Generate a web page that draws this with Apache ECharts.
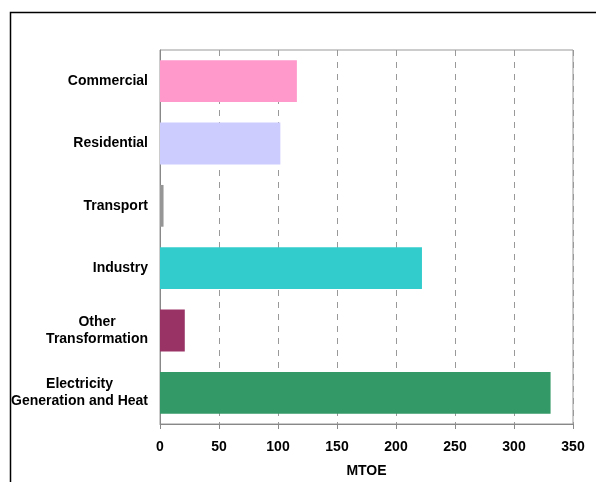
<!DOCTYPE html>
<html>
<head>
<meta charset="utf-8">
<script src="https://cdn.jsdelivr.net/npm/echarts@6/dist/echarts.min.js"></script>
<style>
  html, body { margin: 0; padding: 0; background: #fff; }
  #chart { width: 596px; height: 482px; }
</style>
</head>
<body>
<div id="chart"></div>
<script>
// sectors, top to bottom
const categories = [
  "Commercial",
  "Residential",
  "Transport",
  "Industry",
  "Other\nTransformation",
  "Electricity\nGeneration and Heat"
];
const values = [116, 102, 3, 222, 21, 331];
const barColors = ["#FF99CC", "#CCCCFF", "#969696", "#33CCCC", "#993366", "#339966"];
const xTicks = [0, 50, 100, 150, 200, 250, 300, 350];

const chart = echarts.init(document.getElementById("chart"));

chart.setOption({
  animation: false,
  textStyle: { fontFamily: "Liberation Sans, Arial, sans-serif" },
  graphic: [
    {
      type: "rect",
      shape: { x: 10.5, y: 12.5, width: 700, height: 600 },
      style: { fill: null, stroke: "#000", lineWidth: 1.5 },
      silent: true
    }
  ],
  grid: {
    left: 160,
    right: 23,
    top: 50,
    bottom: 58,
    outerBoundsMode: "none",
    containLabel: false,
    show: true,
    borderColor: "#999",
    borderWidth: 1
  },
  xAxis: {
    type: "value",
    min: xTicks[0],
    max: xTicks[xTicks.length - 1],
    interval: 50,
    name: "MTOE",
    nameLocation: "middle",
    nameGap: 40,
    nameTextStyle: { fontWeight: "bold", fontSize: 14, color: "#000" },
    axisLine: { show: true, lineStyle: { color: "#888" } },
    axisTick: { show: true, length: 5, lineStyle: { color: "#888" } },
    axisLabel: { fontWeight: "bold", fontSize: 14, color: "#000", margin: 16 },
    splitLine: { show: true, lineStyle: { color: "#999", type: [6, 6] } }
  },
  yAxis: {
    type: "category",
    data: categories,
    inverse: true,
    axisLine: { show: true, lineStyle: { color: "#888" } },
    axisTick: { show: false },
    axisLabel: {
      margin: 12,
      align: "right",
      color: "#000",
      formatter: function (v) {
        return v.split("\n").map(l => "{c|" + l + "}").join("\n");
      },
      rich: {
        c: { align: "center", fontWeight: "bold", fontSize: 14, color: "#000", lineHeight: 17 }
      }
    }
  },
  series: [
    {
      type: "bar",
      data: values.map((v, i) => ({ value: v, itemStyle: { color: barColors[i] } })),
      barCategoryGap: "33%"
    }
  ]
});
</script>
</body>
</html>
